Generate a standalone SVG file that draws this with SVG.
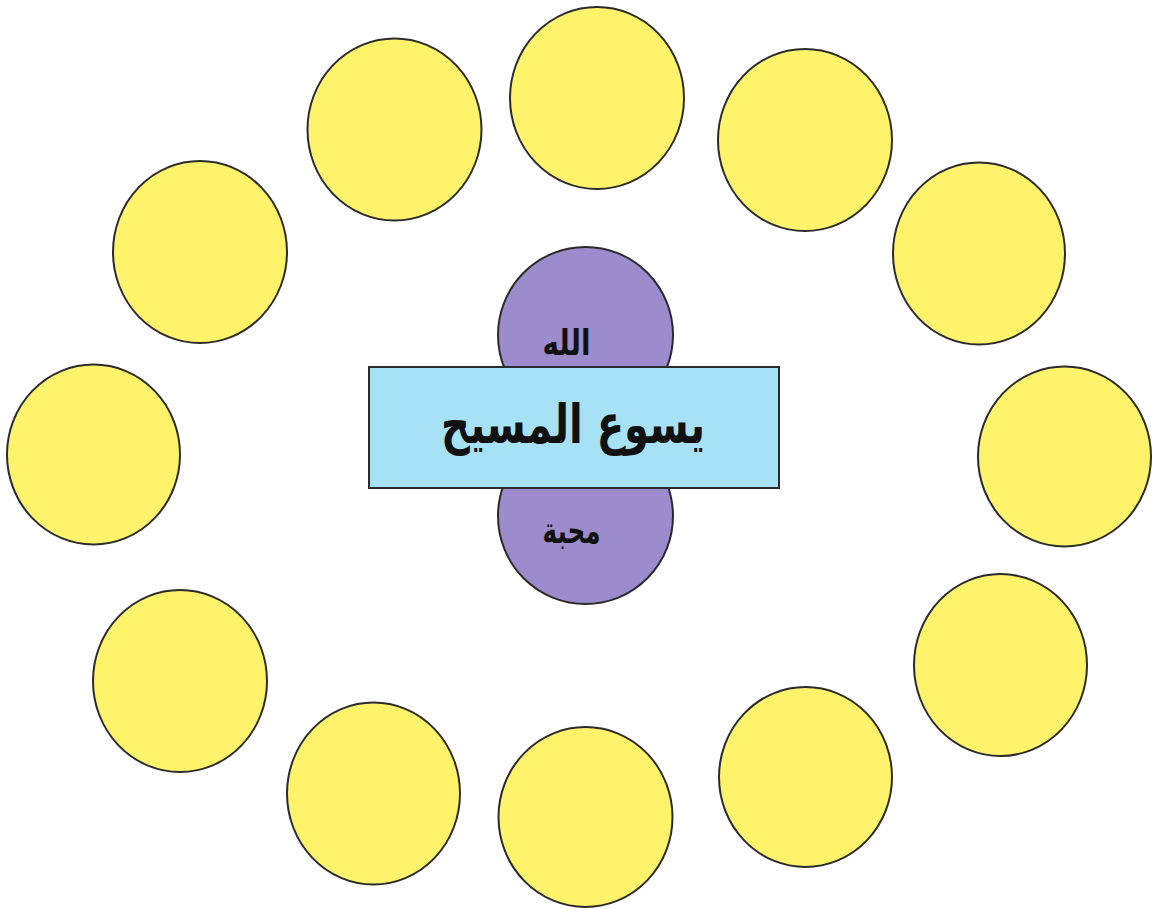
<svg xmlns="http://www.w3.org/2000/svg" width="1154" height="909" viewBox="0 0 1154 909">
<style>
.y{fill:#FFF36C;stroke:#2b2b2b;stroke-width:2}
.p{fill:#9C8CCD;stroke:#2b2b2b;stroke-width:2}
.b{fill:#A7E1F6;stroke:#2b2b2b;stroke-width:2}
.t{font-family:"DejaVu Sans",sans-serif;font-weight:bold;fill:#111;text-anchor:middle}
</style>
<rect width="1154" height="909" fill="#fff"/>
<g id="circles">
<g id="c1"><ellipse class="y" cx="597" cy="98" rx="87" ry="91"/></g>
<g id="c2"><ellipse class="y" cx="394.5" cy="129.5" rx="87" ry="91"/></g>
<g id="c3"><ellipse class="y" cx="805" cy="140" rx="87" ry="91"/></g>
<g id="c4"><ellipse class="y" cx="200" cy="252" rx="87" ry="91"/></g>
<g id="c5"><ellipse class="y" cx="979" cy="253.5" rx="86" ry="91"/></g>
<g id="c6"><ellipse class="y" cx="93.5" cy="454.5" rx="86.5" ry="90"/></g>
<g id="c7"><ellipse class="y" cx="1064.5" cy="456.5" rx="86.5" ry="90"/></g>
<g id="c8"><ellipse class="y" cx="180" cy="681" rx="87" ry="91"/></g>
<g id="c9"><ellipse class="y" cx="1000.5" cy="665" rx="86.5" ry="91"/></g>
<g id="c10"><ellipse class="y" cx="373.5" cy="793.5" rx="86.5" ry="91"/></g>
<g id="c11"><ellipse class="y" cx="585.5" cy="817" rx="87" ry="90"/></g>
<g id="c12"><ellipse class="y" cx="805.5" cy="777" rx="86.5" ry="90"/></g>
</g>
<g id="center">
<g id="top-oval"><ellipse class="p" cx="585.5" cy="335" rx="87.5" ry="88"/><text class="t" x="566.5" y="355" font-size="36" textLength="48" lengthAdjust="spacingAndGlyphs">الله</text></g>
<g id="bottom-oval"><ellipse class="p" cx="585.5" cy="516" rx="87.5" ry="88"/><text class="t" x="571.5" y="543" font-size="36" textLength="58" lengthAdjust="spacingAndGlyphs">محبة</text></g>
<g id="box"><rect class="b" x="369" y="367" width="410" height="121"/><text class="t" x="573" y="443" font-size="54" textLength="264" lengthAdjust="spacingAndGlyphs">يسوع المسيح</text></g>
</g>
</svg>
